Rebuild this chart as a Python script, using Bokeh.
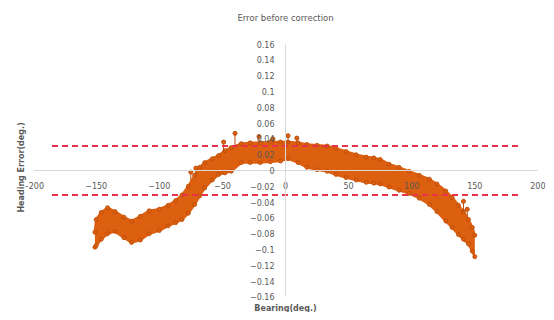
from bokeh.plotting import figure
from bokeh.models import Title, FixedTicker, Range1d
from bokeh.embed import file_html
from bokeh.resources import INLINE

# Band of heading error samples (upper / lower envelope)
bearing = [-151, -150, -146, -141, -135, -128, -122, -115, -108, -100, -93, -87,
           -82, -77, -72, -68, -64, -58, -53, -48, -43, -35, -28, -20, -12, -4,
           2, 10, 17, 25, 33, 40, 48, 56, 64, 70, 75, 82, 90, 98, 106, 114,
           120, 127, 132, 137, 141, 145, 148, 150]
err_upper = [-0.078, -0.062, -0.053, -0.047, -0.052, -0.059, -0.064, -0.058, -0.051,
             -0.049, -0.044, -0.038, -0.031, -0.020, -0.006, 0.004, 0.010, 0.015,
             0.019, 0.025, 0.029, 0.034, 0.035, 0.035, 0.036, 0.036, 0.036, 0.035,
             0.033, 0.032, 0.031, 0.028, 0.024, 0.020, 0.017, 0.016, 0.014, 0.008,
             0.004, -0.001, -0.006, -0.011, -0.017, -0.026, -0.034, -0.044, -0.052,
             -0.062, -0.072, -0.082]
err_lower = [-0.097, -0.095, -0.087, -0.080, -0.077, -0.085, -0.091, -0.088, -0.080,
             -0.076, -0.070, -0.066, -0.062, -0.054, -0.043, -0.032, -0.022, -0.012,
             -0.005, -0.003, -0.001, 0.010, 0.010, 0.010, 0.011, 0.012, 0.015, 0.010,
             0.004, 0.001, -0.001, -0.005, -0.009, -0.012, -0.015, -0.016, -0.017,
             -0.021, -0.025, -0.029, -0.035, -0.043, -0.052, -0.064, -0.072, -0.081,
             -0.087, -0.093, -0.102, -0.109]

# Isolated outlier samples with their error-bar stems
out_x = [-75, -71, -49, -40, -21, -10, 2, 9, 141, 144]
out_y = [-0.002, 0.003, 0.036, 0.047, 0.043, 0.040, 0.044, 0.041, -0.039, -0.049]
out_base = [-0.012, -0.006, 0.024, 0.032, 0.034, 0.035, 0.035, 0.035, -0.052, -0.058]

# Threshold lines
thr_x = [-185, 185]
thr_upper = [0.031, 0.031]
thr_lower = [-0.031, -0.031]

x_ticks = [-200, -150, -100, -50, 0, 50, 100, 150, 200]
y_ticks = [-0.16, -0.14, -0.12, -0.1, -0.08, -0.06, -0.04, -0.02, 0,
           0.02, 0.04, 0.06, 0.08, 0.1, 0.12, 0.14, 0.16]

ORANGE = "#DD6010"
DARK = "#B84A08"
RED = "#E8334A"
GRAY = "#595959"
FONT = "DejaVu Sans"

p = figure(width=546, height=312, output_backend="svg", toolbar_location=None,
           x_range=Range1d(-206, 206), y_range=Range1d(-0.1657, 0.1733),
           min_border_left=25, min_border_right=1, min_border_top=32,
           min_border_bottom=8)
p.outline_line_color = None
p.grid.visible = False
p.background_fill_color = "white"

p.title.text = "Error before correction"
p.title.align = "center"
p.title.text_font = FONT
p.title.text_font_size = "8.5px"
p.title.text_font_style = "normal"
p.title.text_color = GRAY
p.title.standoff = 21

p.add_layout(Title(text="Heading Error(deg.)", align="center", text_font=FONT,
                   text_font_size="8px", text_font_style="bold", text_color=GRAY,
                   standoff=0), "left")
p.add_layout(Title(text="Bearing(deg.)", align="center", text_font=FONT,
                   text_font_size="8px", text_font_style="bold", text_color=GRAY,
                   standoff=0), "below")

for ax in (p.xaxis, p.yaxis):
    ax.fixed_location = 0
    ax.axis_line_color = "#D9D9D9"
    ax.major_tick_line_color = None
    ax.minor_tick_line_color = None
    ax.major_label_text_font = FONT
    ax.major_label_text_font_size = "8px"
    ax.major_label_text_color = GRAY
p.xaxis.ticker = FixedTicker(ticks=x_ticks)
p.yaxis.ticker = FixedTicker(ticks=y_ticks)
p.xaxis.bounds = (x_ticks[0], x_ticks[-1])
p.yaxis.bounds = (y_ticks[0], y_ticks[-1])

p.varea(x=bearing, y1=err_lower, y2=err_upper, fill_color=ORANGE)
p.line(bearing, err_upper, line_color=ORANGE, line_width=2.5)
p.line(bearing, err_lower, line_color=ORANGE, line_width=2.5)
p.scatter(bearing, err_upper, size=4, fill_color=ORANGE, line_color=DARK, line_width=0.8)
p.scatter(bearing, err_lower, size=4, fill_color=ORANGE, line_color=DARK, line_width=0.8)
p.segment(x0=out_x, y0=out_base, x1=out_x, y1=out_y, line_color=DARK, line_width=1)
p.scatter(out_x, out_y, size=4, fill_color=ORANGE, line_color=DARK)

p.line(thr_x, thr_upper, line_color=RED, line_width=2, line_dash="6 4")
p.line(thr_x, thr_lower, line_color=RED, line_width=2, line_dash="6 4")

open("out.html", "w").write(file_html(p, INLINE))
